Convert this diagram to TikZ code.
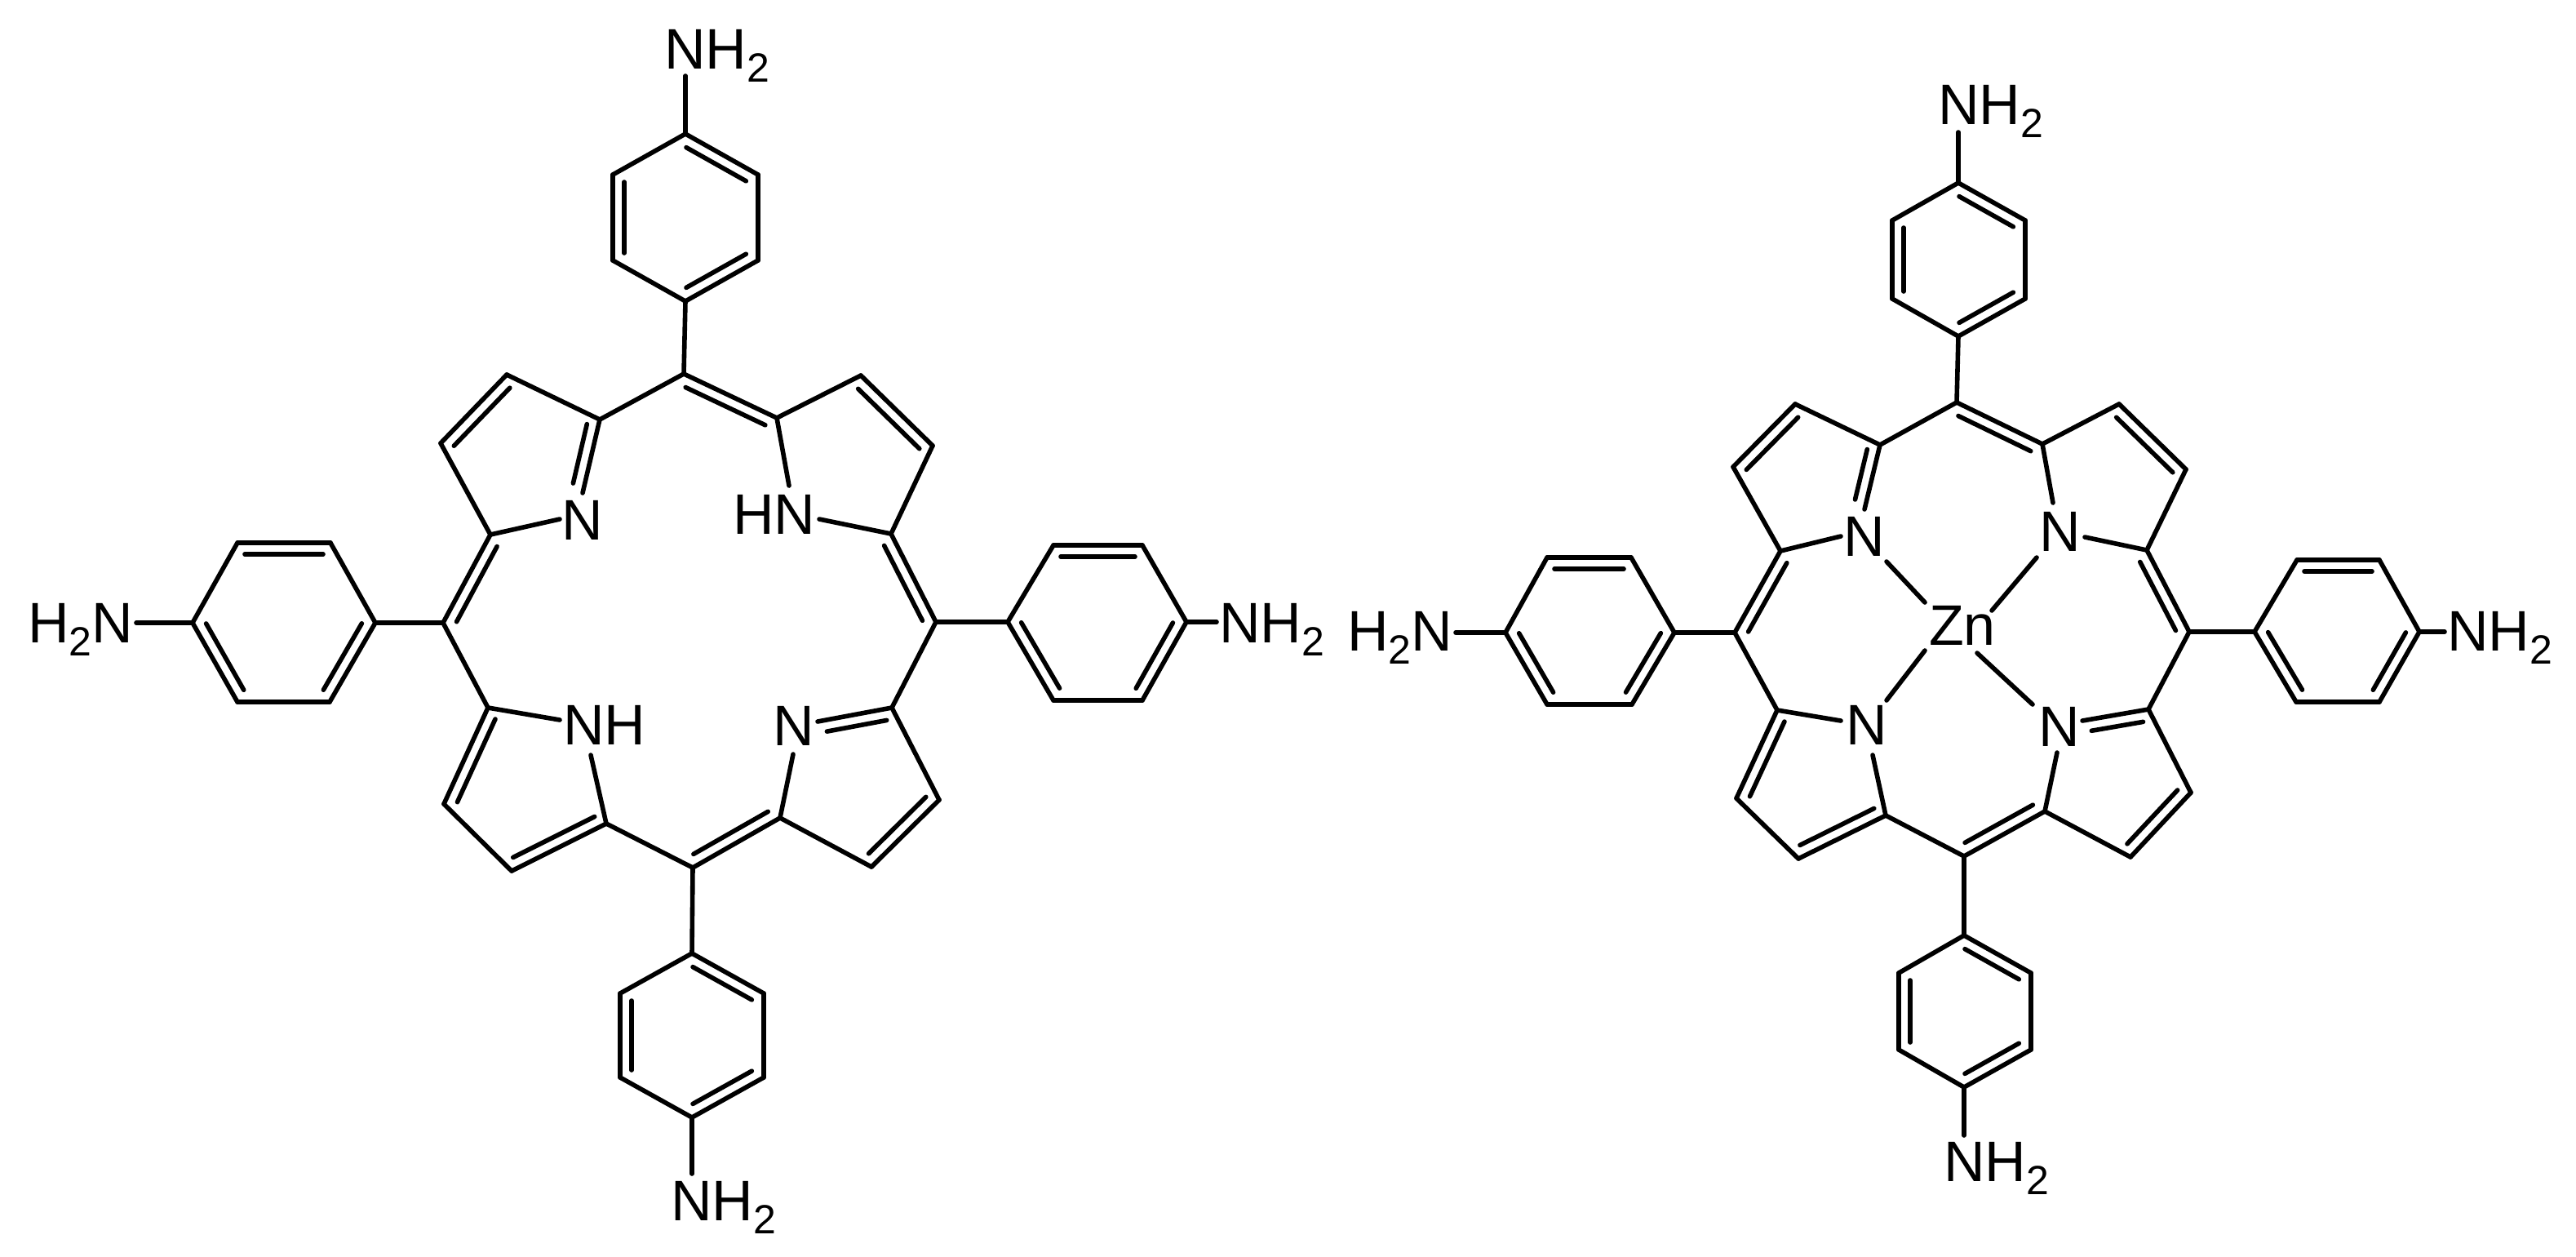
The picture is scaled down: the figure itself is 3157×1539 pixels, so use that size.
\documentclass[tikz,border=0pt]{standalone}
\usepackage{fontspec}
\setmainfont{Liberation Sans}
\usetikzlibrary{calc}
\newcommand{\subtwo}{\raisebox{-8pt}{\fontsize{25}{30}\selectfont 2}}
\newcommand{\bond}[2]{\draw[bondline] (#1) -- (#2);}
% double bond: the inner line lies to the left of the direction a -> b
\newcommand{\dbl}[2]{%
  \draw[bondline] (#1) -- (#2);
  \draw[bondline] ($(#1)!4.5pt!(#2)!7pt!90:(#2)$) -- ($(#2)!4.5pt!(#1)!7pt!-90:(#1)$);}
\newcommand{\hexring}[1]{%
  \dbl{#12}{#11}\bond{#12}{#13}\dbl{#14}{#13}\bond{#14}{#15}\dbl{#16}{#15}\bond{#16}{#11}}
\newcommand{\hexat}[7]{%
  \coordinate (#11) at #2; \coordinate (#12) at #3; \coordinate (#13) at #4;
  \coordinate (#14) at #5; \coordinate (#15) at #6; \coordinate (#16) at #7;}
\tikzset{
  bondline/.style={line width=2.8pt,line cap=round,line join=miter,black},
  atom/.style={anchor=base west,inner sep=0pt,outer sep=0pt,font=\fontsize{35}{40}\selectfont,text=black}
}
\begin{document}
\begin{tikzpicture}[x=0.5pt,y=-0.5pt]
\useasboundingbox (0,0) rectangle (3157,1539);
% ---------- left molecule: atoms
\hexat{LT}{(840,164)}{(929,214)}{(929,319)}{(840,369)}{(751,319)}{(751,214)}
\hexat{LL}{(291,665)}{(405,665)}{(460,763)}{(404,860)}{(291,860)}{(236,763)}
\hexat{LR}{(1291,668)}{(1400,668)}{(1454,762)}{(1400,858)}{(1291,858)}{(1235,762)}
\hexat{LB}{(848,1168)}{(936,1217)}{(936,1320)}{(848,1369)}{(760,1320)}{(760,1217)}
\coordinate (Lmt) at (838,458); \coordinate (Lmr) at (1147,762);
\coordinate (Lmb) at (849,1063); \coordinate (Lml) at (543,763);
\coordinate (Aa) at (735,514); \coordinate (Ab) at (621,459); \coordinate (Ac) at (540,543); \coordinate (Ad) at (601,655);
\coordinate (An1) at (714,604); \coordinate (An2) at (686,636);
\coordinate (Ba) at (598,867); \coordinate (Bb) at (544,985); \coordinate (Bc) at (627,1067); \coordinate (Bd) at (743,1009);
\coordinate (Bn1) at (686,882); \coordinate (Bn2) at (724,925);
\coordinate (Ca) at (956,1002); \coordinate (Cb) at (1068,1062); \coordinate (Cc) at (1151,980); \coordinate (Cd) at (1093,867);
\coordinate (Cn1) at (1002,884); \coordinate (Cn2) at (972,924);
\coordinate (Da) at (1092,654); \coordinate (Db) at (1143,546); \coordinate (Dc) at (1055,460); \coordinate (Dd) at (952,512);
\coordinate (Dn1) at (967,595); \coordinate (Dn2) at (1004,636);
\coordinate (LTn) at (840,93); \coordinate (LLn) at (167,763); \coordinate (LRn) at (1491,762); \coordinate (LBn) at (848,1438);
% ---------- left molecule: labels
\node[atom] (nLT) at (814,84) {NH\subtwo};
\node[atom] (nLL) at (34,787) {H\subtwo N};
\node[atom] (nLR) at (1494,787) {NH\subtwo};
\node[atom] (nLB) at (822,1495) {NH\subtwo};
\node[atom] (nA) at (688,661) {N};
\node[atom] (nB) at (690,912) {NH};
\node[atom] (nC) at (947,913) {N};
\node[atom] (nD) at (898,654) {HN};
% ---------- left molecule: bonds
\hexring{LT}\hexring{LL}\hexring{LR}\hexring{LB}
\bond{LT1}{LTn}\bond{LL6}{LLn}\bond{LR3}{LRn}\bond{LB4}{LBn}
\bond{LT4}{Lmt}\bond{LL3}{Lml}\bond{LR6}{Lmr}\bond{LB1}{Lmb}
\bond{Lmt}{Aa}\dbl{An1}{Aa}\bond{Aa}{Ab}\dbl{Ab}{Ac}\bond{Ac}{Ad}\bond{Ad}{An2}\dbl{Ad}{Lml}
\bond{Lml}{Ba}\dbl{Ba}{Bb}\bond{Bb}{Bc}\dbl{Bc}{Bd}\bond{Ba}{Bn1}\bond{Bd}{Bn2}\bond{Bd}{Lmb}
\dbl{Lmb}{Ca}\bond{Ca}{Cb}\dbl{Cb}{Cc}\bond{Cc}{Cd}\dbl{Cd}{Cn1}\bond{Ca}{Cn2}\bond{Cd}{Lmr}
\dbl{Lmr}{Da}\bond{Da}{Db}\dbl{Db}{Dc}\bond{Dc}{Dd}\dbl{Dd}{Lmt}\bond{Dd}{Dn1}\bond{Da}{Dn2}
% ---------- right molecule: atoms
\hexat{RT}{(2400,224)}{(2482,270)}{(2482,366)}{(2400,412)}{(2319,366)}{(2319,270)}
\hexat{RL}{(1896,683)}{(1999,683)}{(2052,775)}{(2000,863)}{(1896,863)}{(1845,775)}
\hexat{RR}{(2815,686)}{(2916,686)}{(2965,774)}{(2916,860)}{(2814,860)}{(2763,774)}
\hexat{RB}{(2407,1146)}{(2489,1192)}{(2489,1286)}{(2407,1332)}{(2327,1286)}{(2327,1192)}
\coordinate (Rmt) at (2398,493); \coordinate (Rmr) at (2683,774);
\coordinate (Rmb) at (2407,1049); \coordinate (Rml) at (2126,775);
\coordinate (Ea) at (2304,545); \coordinate (Eb) at (2200,495); \coordinate (Ec) at (2124,572); \coordinate (Ed) at (2182,675);
\coordinate (En1) at (2285,624); \coordinate (En2) at (2256,657);
\coordinate (Fa) at (2178,870); \coordinate (Fb) at (2128,978); \coordinate (Fc) at (2204,1052); \coordinate (Fd) at (2311,999);
\coordinate (Fn1) at (2256,883); \coordinate (Fn2) at (2295,925);
\coordinate (Ga) at (2506,994); \coordinate (Gb) at (2611,1050); \coordinate (Gc) at (2685,971); \coordinate (Gd) at (2633,869);
\coordinate (Gn1) at (2552,883); \coordinate (Gn2) at (2521,922);
\coordinate (Ha) at (2631,674); \coordinate (Hb) at (2679,575); \coordinate (Hc) at (2597,495); \coordinate (Hd) at (2503,544);
\coordinate (Hn1) at (2516,616); \coordinate (Hn2) at (2555,658);
\coordinate (RTn) at (2400,162); \coordinate (RLn) at (1784,775); \coordinate (RRn) at (2996,774); \coordinate (RBn) at (2407,1391);
\coordinate (ZE1) at (2312,688); \coordinate (ZE2) at (2359,738);
\coordinate (ZF1) at (2312,858); \coordinate (ZF2) at (2359,797);
\coordinate (ZG1) at (2491,863); \coordinate (ZG2) at (2423,800);
\coordinate (ZH1) at (2496,683); \coordinate (ZH2) at (2441,748);
% ---------- right molecule: labels
\node[atom] (nRT) at (2375,152) {NH\subtwo};
\node[atom] (nRL) at (1651,797) {H\subtwo N};
\node[atom] (nRR) at (2999,797) {NH\subtwo};
\node[atom] (nRB) at (2382,1447) {NH\subtwo};
\node[atom] (nE) at (2259,681) {N};
\node[atom] (nF) at (2262,912) {N};
\node[atom] (nG) at (2498,914) {N};
\node[atom] (nH) at (2499,675) {N};
\node[atom] (nZn) at (2364,790) {Zn};
% ---------- right molecule: bonds
\hexring{RT}\hexring{RL}\hexring{RR}\hexring{RB}
\bond{RT1}{RTn}\bond{RL6}{RLn}\bond{RR3}{RRn}\bond{RB4}{RBn}
\bond{RT4}{Rmt}\bond{RL3}{Rml}\bond{RR6}{Rmr}\bond{RB1}{Rmb}
\bond{Rmt}{Ea}\dbl{En1}{Ea}\bond{Ea}{Eb}\dbl{Eb}{Ec}\bond{Ec}{Ed}\bond{Ed}{En2}\dbl{Ed}{Rml}
\bond{Rml}{Fa}\dbl{Fa}{Fb}\bond{Fb}{Fc}\dbl{Fc}{Fd}\bond{Fa}{Fn1}\bond{Fd}{Fn2}\bond{Fd}{Rmb}
\dbl{Rmb}{Ga}\bond{Ga}{Gb}\dbl{Gb}{Gc}\bond{Gc}{Gd}\dbl{Gd}{Gn1}\bond{Ga}{Gn2}\bond{Gd}{Rmr}
\dbl{Rmr}{Ha}\bond{Ha}{Hb}\dbl{Hb}{Hc}\bond{Hc}{Hd}\dbl{Hd}{Rmt}\bond{Hd}{Hn1}\bond{Ha}{Hn2}
\bond{ZE1}{ZE2}\bond{ZF1}{ZF2}\bond{ZG1}{ZG2}\bond{ZH1}{ZH2}
\end{tikzpicture}
\end{document}
